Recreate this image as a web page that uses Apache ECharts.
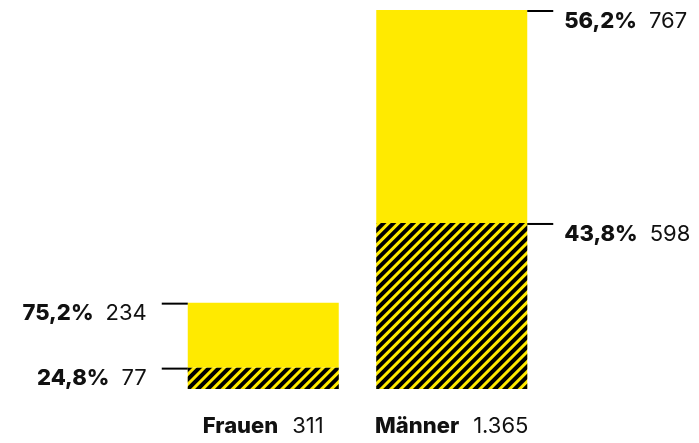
<!DOCTYPE html>
<html>
<head>
<meta charset="utf-8">
<script src="https://cdn.jsdelivr.net/npm/echarts@6/dist/echarts.min.js"></script>
<style>
html,body{margin:0;padding:0;background:#fff;}
#chart{width:699px;height:443px;}
</style>
</head>
<body>
<div id="chart"></div>
<script>
// ---- data ----
var categories = ['Frauen', 'Männer'];
var totals = ['311', '1.365'];
var hatchedValues = [77, 598];
var hatchedPct = ['24,8%', '43,8%'];
var yellowValues = [234, 767];
var yellowPct = ['75,2%', '56,2%'];
var labelSide = ['left', 'right'];

// ---- styles ----
var YELLOW = '#ffea00';
var FONT = 'Inter';
var BAR_W = 151;

function segLabel(i, pct, val) {
  var left = labelSide[i] === 'left';
  return {
    show: true,
    position: left ? [-41, 11] : [BAR_W + 37, 11],
    align: left ? 'right' : 'left',
    verticalAlign: 'middle',
    formatter: '{b|' + pct + '}{n|' + val + '}',
    rich: {
      b: {fontFamily: FONT, fontWeight: 800, fontSize: 22, color: '#111'},
      n: {fontFamily: FONT, fontWeight: 'normal', fontSize: 22, color: '#111', padding: [0, 0, 0, 12]}
    }
  };
}

var hatchedData = hatchedValues.map(function (v, i) {
  return {value: v, label: segLabel(i, hatchedPct[i], v)};
});
var yellowData = yellowValues.map(function (v, i) {
  return {value: v, label: segLabel(i, yellowPct[i], v)};
});

// tick lines: [categoryIndex, stackedTopValue, side]
var tickData = [];
categories.forEach(function (c, i) {
  tickData.push([i, hatchedValues[i], labelSide[i] === 'left' ? -1 : 1]);
  tickData.push([i, hatchedValues[i] + yellowValues[i], labelSide[i] === 'left' ? -1 : 1]);
});

var chart = echarts.init(document.getElementById('chart'), null, {renderer: 'canvas'});
chart.setOption({
  animation: false,
  backgroundColor: '#fff',
  grid: {left: 169, right: 153, top: 10, bottom: 54, containLabel: false},
  xAxis: {
    type: 'category',
    data: categories,
    axisLine: {show: false},
    axisTick: {show: false},
    axisLabel: {
      margin: 26,
      formatter: function (v, idx) {
        return '{b|' + v + '}{n|' + totals[idx] + '}';
      },
      rich: {
        b: {fontFamily: FONT, fontWeight: 800, fontSize: 22, color: '#111', lineHeight: 22},
        n: {fontFamily: FONT, fontWeight: 'normal', fontSize: 22, color: '#111', lineHeight: 22, padding: [0, 0, 0, 14]}
      }
    }
  },
  yAxis: {
    type: 'value', min: 0, max: 1365, show: false,
    splitLine: {show: false}
  },
  series: [
    {
      type: 'bar', stack: 's', barWidth: BAR_W,
      data: hatchedData,
      itemStyle: {
        color: YELLOW,
        decal: {
          symbol: 'rect', symbolSize: 1, color: '#000',
          dashArrayX: [1, 0], dashArrayY: [3.1, 2.6],
          rotation: -Math.PI / 4
        }
      }
    },
    {
      type: 'bar', stack: 's', barWidth: BAR_W,
      data: yellowData,
      itemStyle: {color: YELLOW}
    },
    {
      type: 'custom',
      data: tickData,
      z: 5,
      renderItem: function (params, api) {
        var p = api.coord([api.value(0), api.value(1)]);
        var side = api.value(2);
        var x0 = p[0] + side * BAR_W / 2;
        var x1 = x0 + side * 26;
        return {
          type: 'line',
          shape: {x1: x0, y1: p[1] + 1, x2: x1, y2: p[1] + 1},
          style: {stroke: '#000', lineWidth: 2}
        };
      }
    }
  ]
});
</script>
</body>
</html>
